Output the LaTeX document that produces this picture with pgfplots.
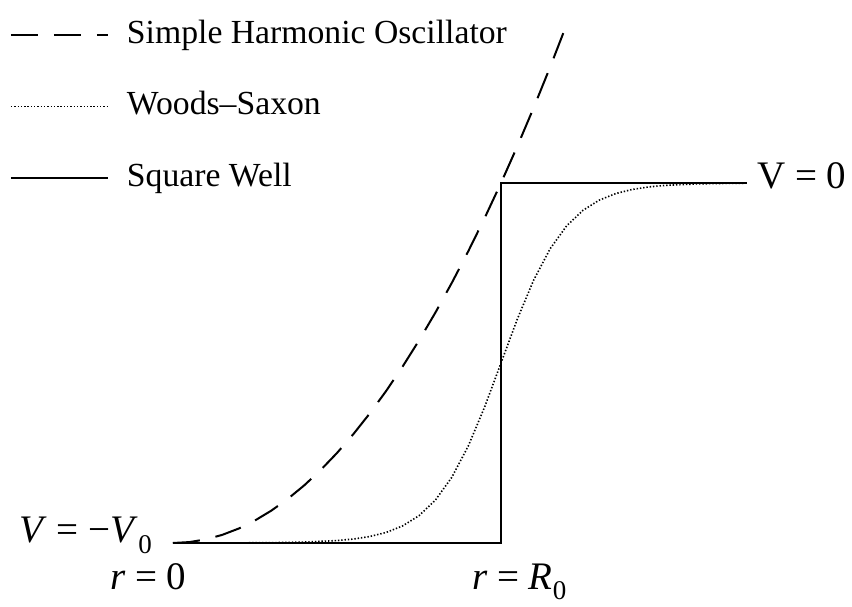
\documentclass[border=0pt]{standalone}
\usepackage{fontspec}
\setmainfont{Liberation Serif}
\usepackage{pgfplots}
\pgfplotsset{compat=1.18}

% sizes of the two text styles
\newcommand{\legendfont}{\fontsize{33.7}{40}\selectfont}
\newcommand{\labelfont}{\fontsize{39}{46}\selectfont}
\newcommand{\sub}[1]{\raisebox{-0.28em}{\fontsize{27}{30}\selectfont #1}}

\begin{document}
\begin{tikzpicture}
\begin{axis}[
  name=main,
  scale only axis,
  width=852pt, height=607pt,
  xmin=-0.5274, xmax=2.0701,
  ymin=-1.1778, ymax=0.5083,
  hide axis,
  clip=false,
  legend cell align=left,
  legend image code/.code={\path (0pt,0pt); \draw[#1,line cap=butt] (0pt,8pt) -- (97pt,8pt);},
  legend style={draw=none, fill=none, inner sep=0pt, outer sep=0pt,
    at={(axis description cs:0.0117,0.9685)}, anchor=north west,
    row sep=39.5pt, font=\legendfont,
    nodes={inner sep=0pt, text height=24pt, text depth=8pt, anchor=base west},
    /tikz/every odd column/.append style={column sep=18pt}},
]
% simple harmonic oscillator, V = -V0 + k r^2
\addplot[black, line width=2pt, line cap=butt, dash pattern=on 27pt off 16pt] coordinates {
  (0,-1) (0.05,-0.9975) (0.1,-0.99) (0.15,-0.9775) (0.2,-0.96) (0.25,-0.9375)
  (0.3,-0.91) (0.35,-0.8775) (0.4,-0.84) (0.45,-0.7975) (0.5,-0.75)
  (0.55,-0.6975) (0.6,-0.64) (0.65,-0.5775) (0.7,-0.51) (0.75,-0.4375)
  (0.8,-0.36) (0.85,-0.2775) (0.9,-0.19) (0.95,-0.0975) (1.0,0)
  (1.05,0.1025) (1.1,0.21) (1.15,0.3225) (1.2,0.44)
};
\addlegendentry{Simple Harmonic Oscillator}
% Woods--Saxon, radius R0 = 1, diffuseness 0.1
\addplot[black, line width=1.6pt, line cap=butt, dash pattern=on 1.4pt off 1.9pt] coordinates {
  (0,-0.99995) (0.1,-0.99988) (0.2,-0.99966) (0.3,-0.99909) (0.4,-0.99753)
  (0.5,-0.99331) (0.55,-0.98901) (0.6,-0.98201) (0.65,-0.97069) (0.7,-0.95257)
  (0.75,-0.92414) (0.8,-0.88080) (0.85,-0.81757) (0.9,-0.73106) (0.95,-0.62246)
  (1.0,-0.5) (1.05,-0.37754) (1.1,-0.26894) (1.15,-0.18243) (1.2,-0.11920)
  (1.25,-0.07586) (1.3,-0.04743) (1.35,-0.02931) (1.4,-0.01799) (1.45,-0.01099)
  (1.5,-0.00669) (1.6,-0.00247) (1.7,-0.00091) (1.75,-0.00055)
};
\addlegendentry{Woods–Saxon}
% square well of depth V0 and radius R0
\addplot[black, line width=2pt, line join=miter] coordinates {
  (0,-1) (1,-1) (1,0) (1.75,0)
};
\addlegendentry{Square Well}

\node[anchor=base west, inner sep=0pt, font=\labelfont] at (axis cs:1.7805,-0.0167) {V = 0};
\node[anchor=base east, inner sep=0pt, font=\labelfont] at (axis cs:-0.064,-1) {\textit{V} = −\textit{V}\sub{0}};
\node[anchor=base west, inner sep=0pt, font=\labelfont] at (axis cs:-0.192,-1.128) {\textit{r} = 0};
\node[anchor=base west, inner sep=0pt, font=\labelfont] at (axis cs:0.9116,-1.128) {\textit{r} = \textit{R}\sub{0}};
\end{axis}
\pgfresetboundingbox
\useasboundingbox (main.south west) rectangle (main.north east);
\end{tikzpicture}
\end{document}
